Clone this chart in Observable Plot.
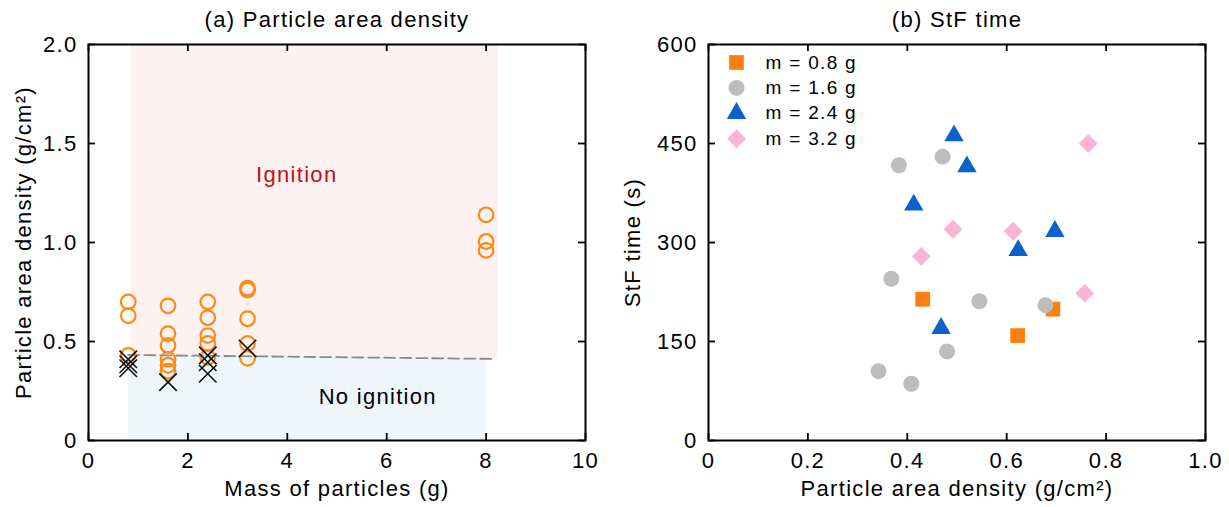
<!DOCTYPE html>
<html>
<head>
<meta charset="utf-8">
<script src="https://cdn.jsdelivr.net/npm/d3@7"></script>
<script src="https://cdn.jsdelivr.net/npm/@observablehq/plot@0.6"></script>
<style>
  body { margin: 0; background: white; }
  #wrap { display: flex; width: 1229px; height: 507px; }
  svg text { letter-spacing: 1.3px; }
</style>
</head>
<body>
<div id="wrap"></div>
<script>
// ---------- Panel (a) data ----------
const ignMass    = [0.8,0.8,0.8, 1.6,1.6,1.6,1.6,1.6,1.6, 2.4,2.4,2.4,2.4,2.4, 3.2,3.2,3.2,3.2,3.2, 8,8,8];
const ignDensity = [0.70,0.63,0.43, 0.68,0.54,0.48,0.41,0.38,0.35, 0.70,0.62,0.53,0.49,0.42, 0.77,0.76,0.615,0.49,0.415, 1.14,1.005,0.96];
const noIgnMass    = [0.8,0.8,0.8, 1.6, 2.4,2.4,2.4, 3.2];
const noIgnDensity = [0.41,0.385,0.365, 0.295, 0.43,0.395,0.337, 0.465];
const boundaryMass    = [0.8, 8.2];
const boundaryDensity = [0.432, 0.412];
const ignRegionMass = [0.85, 8.25];
const noIgnRegionMass = [0.8, 8.0];
const regionTop = 2.0;
const regionLabels = [
  {text: "Ignition", mass: 4.19, density: 1.34, color: "#c0101a"},
  {text: "No ignition", mass: 5.82, density: 0.22, color: "black"}
];
const xTicksA = [0, 2, 4, 6, 8, 10];
const yTicksA = [0, 0.5, 1.0, 1.5, 2.0];

// ---------- Panel (b) data ----------
const seriesNames = ["m = 0.8 g", "m = 1.6 g", "m = 2.4 g", "m = 3.2 g"];
const seriesColors = ["#ff7f0e", "#bdbdbd", "#0a62cc", "#f9b4d6"];
const seriesSymbols = ["square", "circle", "triangle", "diamond2"];
const seriesR = [8.3, 8, 7.2, 8.5];
const density08 = [0.431, 0.622, 0.693];
const time08    = [214, 159, 199];
const density16 = [0.383, 0.471, 0.368, 0.545, 0.678, 0.480, 0.342, 0.408];
const time16    = [417, 430, 245, 211, 205, 135, 105, 86];
const density24 = [0.494, 0.520, 0.413, 0.697, 0.623, 0.468];
const time24    = [462, 415, 357, 317, 288, 170];
const density32 = [0.764, 0.492, 0.613, 0.428, 0.757];
const time32    = [450, 320, 317, 279, 223];
const xTicksB = [0, 0.2, 0.4, 0.6, 0.8, 1.0];
const yTicksB = [0, 150, 300, 450, 600];

const FONT = "'Liberation Sans', Arial, Helvetica, sans-serif";
const H = 507, MT = 44, MB = 67;
const PH = H - MT - MB; // plot height
const TL = 7; // tick length

function innerTicks(xt, yt, PW) {
  return [
    Plot.ruleX(xt, {x: d => d, insetTop: PH - TL, stroke: "black", strokeWidth: 1.8}),
    Plot.ruleX(xt, {x: d => d, insetBottom: PH - TL, stroke: "black", strokeWidth: 1.8}),
    Plot.ruleY(yt, {y: d => d, insetRight: PW - TL, stroke: "black", strokeWidth: 1.8}),
    Plot.ruleY(yt, {y: d => d, insetLeft: PW - TL, stroke: "black", strokeWidth: 1.8})
  ];
}

// ---------- Panel (a) ----------
const WA = 614, MLA = 88, MRA = 29;
const PWA = WA - MLA - MRA;
const ign = ignMass.map((m, i) => ({m, d: ignDensity[i]}));
const noIgn = noIgnMass.map((m, i) => ({m, d: noIgnDensity[i]}));
const boundary = boundaryMass.map((m, i) => ({m, d: boundaryDensity[i]}));
const lineAt = m => boundaryDensity[0] + (boundaryDensity[1] - boundaryDensity[0]) * (m - boundaryMass[0]) / (boundaryMass[1] - boundaryMass[0]);
const pinkArea = ignRegionMass.map(m => ({m, lo: lineAt(m), hi: regionTop}));
const blueArea = noIgnRegionMass.map(m => ({m, lo: 0, hi: lineAt(m)}));

const fmtA = d => d === 0 ? "0" : d.toFixed(1);

const plotA = Plot.plot({
  width: WA, height: H,
  marginLeft: MLA, marginRight: MRA, marginTop: MT, marginBottom: MB,
  style: {fontFamily: FONT, fontSize: "22px", background: "white", color: "black"},
  x: {domain: [0, 10]},
  y: {domain: [0, 2]},
  marks: [
    Plot.areaY(pinkArea, {x: "m", y1: "lo", y2: "hi", fill: "#fdf1f1"}),
    Plot.areaY(blueArea, {x: "m", y1: "lo", y2: "hi", fill: "#eef5fb"}),
    Plot.line(boundary, {x: "m", y: "d", stroke: "#8a8a8a", strokeWidth: 1.8, strokeDasharray: "11,5"}),
    Plot.dot(ign, {x: "m", y: "d", r: 7.3, stroke: "#ff8a12", strokeWidth: 2.2, fill: "none"}),
    Plot.dot(noIgn, {x: "m", y: "d", symbol: "times", r: 8, stroke: "#111", strokeWidth: 1.6}),
    Plot.text(regionLabels, {x: "mass", y: "density", text: "text", fill: "color", fontSize: 22}),
    ...innerTicks(xTicksA, yTicksA, PWA),
    Plot.frame({stroke: "black", strokeWidth: 2}),
    Plot.axisX({ticks: xTicksA, tickFormat: d => String(d), tickSize: 0, tickPadding: 12, label: null, fontSize: 22}),
    Plot.axisY({ticks: yTicksA, tickFormat: fmtA, tickSize: 0, tickPadding: 11, label: null, fontSize: 22}),
    Plot.text(["Mass of particles (g)"], {frameAnchor: "bottom", dy: 48, lineAnchor: "middle", fontSize: 22}),
    Plot.text(["Particle area density (g/cm²)"], {frameAnchor: "left", dx: -65, rotate: -90, lineAnchor: "middle", textAnchor: "middle", fontSize: 22}),
    Plot.text(["(a) Particle area density"], {frameAnchor: "top", dy: -25, lineAnchor: "middle", fontSize: 22})
  ]
});

// ---------- Panel (b) ----------
const WB = 615, MLB = 94, MRB = 24;
const PWB = WB - MLB - MRB;
const seriesDensity = [density08, density16, density24, density32];
const seriesTime = [time08, time16, time24, time32];

const pointMarks = seriesNames.map((name, s) =>
  Plot.dot(seriesDensity[s].map((x, i) => ({x, y: seriesTime[s][i]})), {
    x: "x", y: "y", symbol: seriesSymbols[s], r: seriesR[s], fill: seriesColors[s], stroke: "none"
  })
);
const legendMarks = seriesNames.flatMap((name, s) => [
  Plot.dot([name], {frameAnchor: "top-left", dx: 28, dy: 18 + s * 25.4, symbol: seriesSymbols[s], r: seriesR[s], fill: seriesColors[s]}),
  Plot.text([name], {frameAnchor: "top-left", dx: 57, dy: 18 + s * 25.4, textAnchor: "start", lineAnchor: "middle", fontSize: 19})
]);

const plotB = Plot.plot({
  width: WB, height: H,
  marginLeft: MLB, marginRight: MRB, marginTop: MT, marginBottom: MB,
  style: {fontFamily: FONT, fontSize: "22px", background: "white", color: "black"},
  x: {domain: [0, 1]},
  y: {domain: [0, 600]},
  marks: [
    ...pointMarks,
    ...legendMarks,
    ...innerTicks(xTicksB, yTicksB, PWB),
    Plot.frame({stroke: "black", strokeWidth: 2}),
    Plot.axisX({ticks: xTicksB, tickFormat: d => d === 0 ? "0" : d.toFixed(1), tickSize: 0, tickPadding: 12, label: null, fontSize: 22}),
    Plot.axisY({ticks: yTicksB, tickFormat: d => String(d), tickSize: 0, tickPadding: 11, label: null, fontSize: 22}),
    Plot.text(["Particle area density (g/cm²)"], {frameAnchor: "bottom", dy: 48, lineAnchor: "middle", fontSize: 22}),
    Plot.text(["StF time (s)"], {frameAnchor: "left", dx: -76, rotate: -90, lineAnchor: "middle", textAnchor: "middle", fontSize: 22}),
    Plot.text(["(b) StF time"], {frameAnchor: "top", dy: -25, lineAnchor: "middle", fontSize: 22})
  ]
});

const wrap = document.getElementById("wrap");
wrap.appendChild(plotA);
wrap.appendChild(plotB);
</script>
</body>
</html>
